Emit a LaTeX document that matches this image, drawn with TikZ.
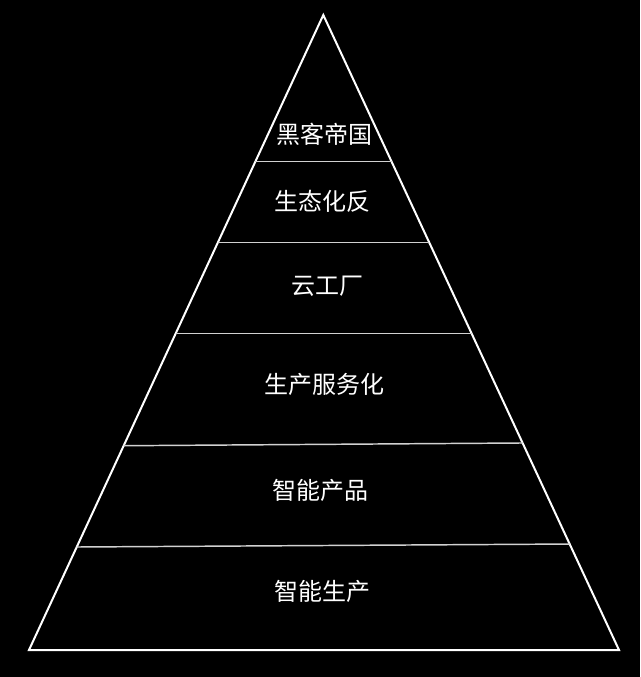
\documentclass[tikz,border=0pt]{standalone}
\usepackage{fontspec}
\newfontfamily\cjk{Noto Sans CJK SC}
\usetikzlibrary{calc}
\begin{document}
\begin{tikzpicture}[x=0.75pt,y=-0.75pt,
  edge/.style={draw=white,line width=1.5pt,line join=miter},
  tier/.style={draw=white!82!black,line width=1.1pt},
  lab/.style={text=white,font=\cjk\fontsize{18pt}{20pt}\selectfont,inner sep=0pt,anchor=center}]
\fill[black] (0,0) rectangle (640,677);
\useasboundingbox (0,0) rectangle (640,677);
\coordinate (apex) at (323.3,15);
\coordinate (bl) at (29,650);
\coordinate (br) at (619,650);
\draw[edge] (apex) -- (bl) -- (br) -- cycle;
% tier lines
\coordinate (l1) at ($(apex)!0.2307!(bl)$); \coordinate (r1) at ($(apex)!0.2307!(br)$);
\coordinate (l2) at ($(apex)!0.3586!(bl)$); \coordinate (r2) at ($(apex)!0.3586!(br)$);
\coordinate (l3) at ($(apex)!0.5013!(bl)$); \coordinate (r3) at ($(apex)!0.5013!(br)$);
\coordinate (l4) at ($(apex)!0.6783!(bl)$); \coordinate (r4) at ($(apex)!0.6740!(br)$);
\coordinate (l5) at ($(apex)!0.8378!(bl)$); \coordinate (r5) at ($(apex)!0.8331!(br)$);
\draw[tier] (l1) -- (r1);
\draw[tier] (l2) -- (r2);
\draw[tier] (l3) -- (r3);
\draw[tier] (l4) -- (r4);
\draw[tier] (l5) -- (r5);
% labels
\node[lab] (t1) at (324.5,134) {黑客帝国};
\node[lab] (t2) at (322.5,201) {生态化反};
\node[lab] (t3) at (327,286) {云工厂};
\node[lab] (t4) at (324,384.5) {生产服务化};
\node[lab] (t5) at (320,490.5) {智能产品};
\node[lab] (t6) at (322,591.5) {智能生产};
\end{tikzpicture}
\end{document}
